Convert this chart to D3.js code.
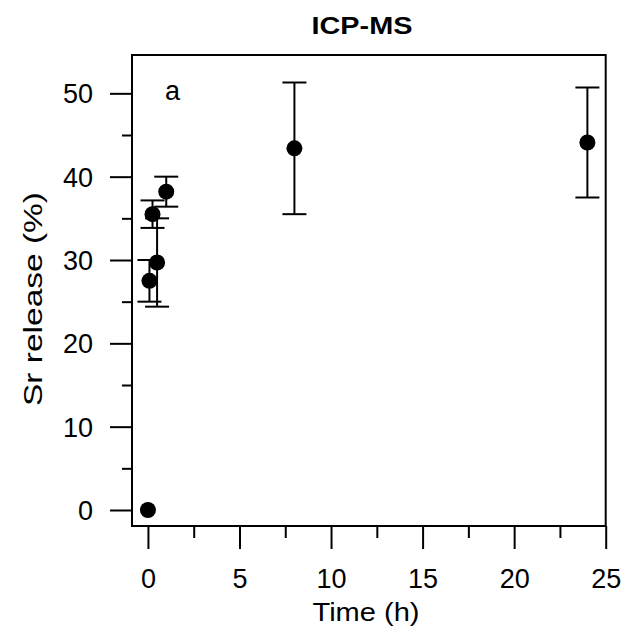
<!DOCTYPE html>
<html>
<head>
<meta charset="utf-8">
<script src="https://cdn.jsdelivr.net/npm/d3@7"></script>
<style>
  html, body { margin: 0; padding: 0; background: #fff; }
  svg { display: block; }
  text { font-family: "Liberation Sans", Arial, sans-serif; fill: #000; }
</style>
</head>
<body>
<svg id="chart" width="624" height="628"></svg>
<script>
// ---- data ----
const timeHours = [0, 0.083, 0.25, 0.5, 1, 8, 24];
const srRelease = [0, 27.5, 35.5, 29.7, 38.2, 43.4, 44.1];
const srError   = [0, 2.5, 1.65, 5.3, 1.8, 7.9, 6.6];
const xMajorTicks = [0, 5, 10, 15, 20, 25];
const xMinorTicks = [2.5, 7.5, 12.5, 17.5, 22.5];
const yMajorTicks = [0, 10, 20, 30, 40, 50];
const yMinorTicks = [5, 15, 25, 35, 45];
const titleText = "ICP-MS";
const xLabel = "Time (h)";
const yLabel = "Sr release (%)";
const panelLabel = "a";

// ---- layout ----
const frame = { left: 132, right: 605.7, top: 55, bottom: 526 };
const svg = d3.select("#chart");

const x = d3.scaleLinear().domain([-0.87, 25]).range([frame.left, frame.right]);
const y = d3.scaleLinear().domain([-1.92, 54.6]).range([frame.bottom, frame.top]);

const stroke = 2;

// frame box
svg.append("rect")
  .attr("x", frame.left).attr("y", frame.top)
  .attr("width", frame.right - frame.left)
  .attr("height", frame.bottom - frame.top)
  .attr("fill", "none").attr("stroke", "#000").attr("stroke-width", stroke);

// x axis (major)
const xAxisMajor = d3.axisBottom(x).tickValues(xMajorTicks).tickSize(23).tickPadding(14).tickFormat(d3.format("d"));
const gx = svg.append("g").attr("transform", `translate(0,${frame.bottom})`).call(xAxisMajor);
gx.select(".domain").remove();
gx.selectAll("line").attr("stroke", "#000").attr("stroke-width", stroke);
gx.selectAll("text").attr("font-size", 27).attr("dy", null).attr("y", 62)
  .style("font-family", "'Liberation Sans', Arial, sans-serif");

const xAxisMinor = d3.axisBottom(x).tickValues(xMinorTicks).tickSize(12).tickFormat("");
const gxm = svg.append("g").attr("transform", `translate(0,${frame.bottom})`).call(xAxisMinor);
gxm.select(".domain").remove();
gxm.selectAll("line").attr("stroke", "#000").attr("stroke-width", stroke);

// y axis (major)
const yAxisMajor = d3.axisLeft(y).tickValues(yMajorTicks).tickSize(22).tickPadding(17).tickFormat(d3.format("d"));
const gy = svg.append("g").attr("transform", `translate(${frame.left},0)`).call(yAxisMajor);
gy.select(".domain").remove();
gy.selectAll("line").attr("stroke", "#000").attr("stroke-width", stroke);
gy.selectAll("text").attr("font-size", 27).attr("dy", "0.35em")
  .style("font-family", "'Liberation Sans', Arial, sans-serif");

const yAxisMinor = d3.axisLeft(y).tickValues(yMinorTicks).tickSize(10).tickFormat("");
const gym = svg.append("g").attr("transform", `translate(${frame.left},0)`).call(yAxisMinor);
gym.select(".domain").remove();
gym.selectAll("line").attr("stroke", "#000").attr("stroke-width", stroke);

// data rows
const rows = timeHours.map((t, i) => ({ t, v: srRelease[i], e: srError[i] }));

// error bars
const cap = 12;
const eb = svg.append("g").attr("stroke", "#000").attr("stroke-width", stroke);
rows.filter(d => d.e > 0).forEach(d => {
  const cx = x(d.t);
  eb.append("line").attr("x1", cx).attr("x2", cx).attr("y1", y(d.v - d.e)).attr("y2", y(d.v + d.e));
  eb.append("line").attr("x1", cx - cap).attr("x2", cx + cap).attr("y1", y(d.v + d.e)).attr("y2", y(d.v + d.e));
  eb.append("line").attr("x1", cx - cap).attr("x2", cx + cap).attr("y1", y(d.v - d.e)).attr("y2", y(d.v - d.e));
});

// markers
svg.append("g").selectAll("circle").data(rows).join("circle")
  .attr("cx", d => x(d.t)).attr("cy", d => y(d.v)).attr("r", 8).attr("fill", "#000");

// title
svg.append("text").attr("x", 362).attr("y", 34).attr("text-anchor", "middle")
  .attr("font-size", 24.5).attr("font-weight", "bold")
  .attr("textLength", 101).attr("lengthAdjust", "spacingAndGlyphs")
  .text(titleText);

// x label
svg.append("text").attr("x", 366).attr("y", 621).attr("text-anchor", "middle")
  .attr("font-size", 25)
  .attr("textLength", 107).attr("lengthAdjust", "spacingAndGlyphs")
  .text(xLabel);

// y label
svg.append("text").attr("transform", "translate(42,299) rotate(-90)").attr("text-anchor", "middle")
  .attr("font-size", 25)
  .attr("textLength", 214).attr("lengthAdjust", "spacingAndGlyphs")
  .text(yLabel);

// panel label
svg.append("text").attr("x", 165).attr("y", 99.5).attr("font-size", 27)
  .text(panelLabel);
</script>
</body>
</html>
